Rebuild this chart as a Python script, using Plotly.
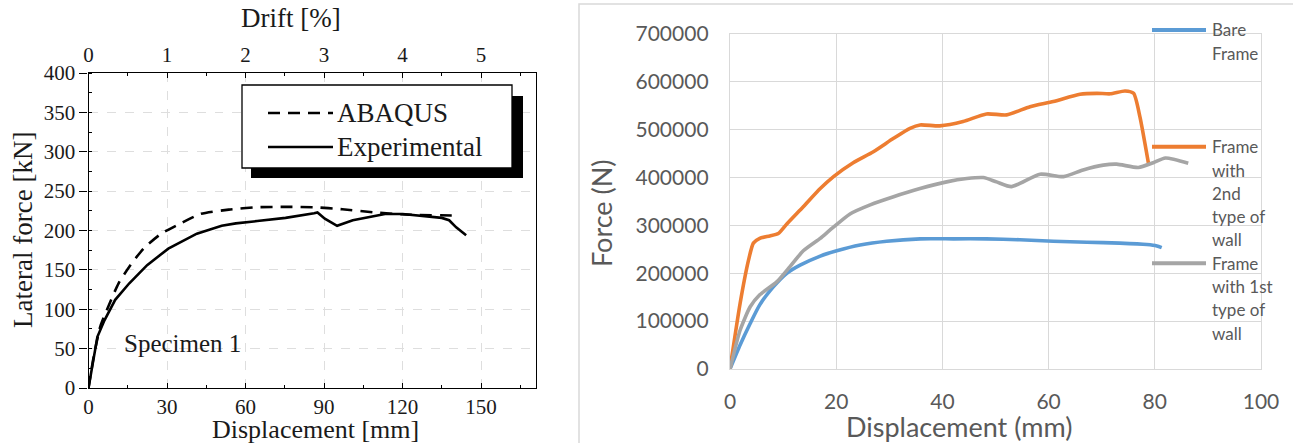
import plotly.graph_objects as go

W, H = 1293, 443

# ---- Specimen 1: lateral force vs displacement (kN, mm) ----
exp_disp = [0, 1.4, 3.4, 6.1, 10.2, 15.6, 22.4, 30.5, 41.4, 50.9, 56.3, 64.5, 75.3,
            86.2, 87.5, 90.3, 95, 101, 108, 113.3, 120, 127, 135, 137.8, 140.5, 144.3]
exp_force = [0, 27, 65, 86, 112, 133, 156, 177, 196, 206, 209, 212, 216,
             222, 223, 215, 206, 213, 218, 221, 221, 219, 216, 213, 204, 194]
abq_disp = [0, 2, 4.5, 7.5, 11.5, 15.6, 21, 27.8, 34.6, 42.8, 53.6, 64.5, 75.3,
            86.2, 97, 109.3, 122.8, 141.8]
abq_force = [0, 40, 78, 103, 133, 154, 177, 196, 208, 221, 226.5, 229.5, 230,
             229.5, 227, 223, 220, 219]
drift_ticks = [0, 1, 2, 3, 4, 5]
disp_ticks = [0, 30, 60, 90, 120, 150]
left_legend = ["ABAQUS", "Experimental"]

# ---- Frame pushover curves (N, mm) ----
bare_disp = [0, 1.9, 3.8, 5.6, 8.2, 10.7, 13.2, 17, 20.1, 24.5, 29.5, 35.8, 42.1,
             48.3, 54.6, 60.9, 67.2, 73.4, 78.5, 80.4, 81.3]
bare_force = [0, 50000, 95000, 134000, 172000, 200000, 217000, 236000, 247000,
              259000, 267000, 272000, 272000, 272000, 270000, 267000, 265000,
              263000, 260000, 257000, 253500]
wall2_disp = [0, 1.9, 3.5, 4.4, 5.6, 7.5, 9.1, 10.7, 13.8, 17, 19.5, 23.2, 27,
              30.8, 33.9, 35.8, 39.5, 43.9, 48.3, 52.1, 56.5, 60.9, 65.9, 69.1,
              71.6, 74.4, 76, 77.2, 78.8]
wall2_force = [0, 137000, 228000, 263000, 273000, 278000, 283000, 303000, 339000,
               377000, 402000, 431000, 454000, 482000, 503000, 510000, 508000,
               517000, 533000, 531000, 548000, 559000, 574000, 576000, 575000,
               581000, 576000, 527000, 430000]
wall1_disp = [0, 1.9, 3.8, 5.6, 8.8, 11.3, 13.8, 17, 18.8, 22.6, 26.4, 30.8, 35.8,
              40.8, 44.6, 47.7, 50.2, 53, 58.4, 62.8, 66.5, 70.3, 72.8, 76.9,
              79.7, 82, 86.3]
wall1_force = [0, 81000, 130000, 155000, 182000, 214000, 247000, 273000, 290000,
               324000, 343000, 360000, 377000, 391000, 398000, 400000, 391000,
               381000, 407000, 402000, 416000, 426000, 428000, 421000, 431000,
               441000, 430000]
right_legend = [["Bare", "Frame"],
                ["Frame", "with", "2nd", "type of", "wall"],
                ["Frame", "with 1st", "type of", "wall"]]
right_colors = ["#5B9BD5", "#ED7D31", "#A5A5A5"]


def px(x):
    return x / W


def py(y):
    return 1 - y / H


SERIF = "Liberation Serif"
SANS = "Lato"
INK = "#1a1a1a"
GREY_TXT = "#595959"
GRID = "#d9d9d9"

fig = go.Figure()

# left panel curves
fig.add_trace(go.Scatter(x=abq_disp, y=abq_force, xaxis="x", yaxis="y", mode="lines",
                         line=dict(color="black", width=2.6, dash="12px,8px", shape="spline", smoothing=0.6),
                         showlegend=False, hoverinfo="skip"))
fig.add_trace(go.Scatter(x=exp_disp, y=exp_force, xaxis="x", yaxis="y", mode="lines",
                         line=dict(color="black", width=2.6),
                         showlegend=False, hoverinfo="skip"))
# drift axis carrier
fig.add_trace(go.Scatter(x=[drift_ticks[0], drift_ticks[-1]], y=[0, 0], xaxis="x2", yaxis="y",
                         mode="lines", line=dict(width=0), showlegend=False, hoverinfo="skip"))

# right panel curves
for xs, ys, col in [(bare_disp, bare_force, right_colors[0]),
                    (wall2_disp, wall2_force, right_colors[1]),
                    (wall1_disp, wall1_force, right_colors[2])]:
    fig.add_trace(go.Scatter(x=xs, y=ys, xaxis="x3", yaxis="y3", mode="lines",
                             line=dict(color=col, width=3.6, shape="spline", smoothing=0.6),
                             showlegend=False, hoverinfo="skip"))

left_font = dict(family=SERIF, size=21, color=INK)
right_font = dict(family=SANS, size=21, color=GREY_TXT)

fig.update_layout(
    width=W, height=H, margin=dict(l=0, r=0, t=0, b=0, pad=0),
    paper_bgcolor="white", plot_bgcolor="white", showlegend=False,
    xaxis=dict(domain=[px(88.5), px(536)], anchor="y", range=[0, 171], automargin=False,
               tickvals=disp_ticks, ticks="inside", ticklen=5, tickcolor="black",
               showline=True, linecolor="black", linewidth=1.3,
               showgrid=True, gridcolor="#dedede", griddash="dash", gridwidth=1,
               zeroline=False, tickfont=left_font, ticklabelstandoff=0,
               minor=dict(dtick=15, ticks="inside", ticklen=3, tickcolor="black", showgrid=False)),
    xaxis2=dict(overlaying="x", anchor="y", side="top", range=[0, 171 / 30], automargin=False,
                tickvals=drift_ticks, ticks="inside", ticklen=5, tickcolor="black",
                showline=True, linecolor="black", linewidth=1.3, showgrid=False,
                zeroline=False, tickfont=left_font, ticklabelstandoff=1,
                minor=dict(dtick=0.5, ticks="inside", ticklen=3, tickcolor="black", showgrid=False)),
    yaxis=dict(domain=[py(388), py(73)], anchor="x", range=[0, 400], dtick=50, automargin=False,
               ticks="outside", ticklen=8, tickcolor="black",
               showline=True, mirror=True, linecolor="black", linewidth=1.3,
               showgrid=True, gridcolor="#dedede", griddash="dash", gridwidth=1,
               zeroline=False, tickfont=left_font,
               minor=dict(dtick=25, ticks="inside", ticklen=3, tickcolor="black", showgrid=False)),
    xaxis3=dict(domain=[px(730), px(1261)], anchor="y3", range=[0, 100], dtick=20, automargin=False,
                showline=True, mirror=True, linecolor=GRID, linewidth=1.4,
                showgrid=True, gridcolor=GRID, gridwidth=1.4, zeroline=False,
                ticks="", tickfont=right_font, ticklabelstandoff=14),
    yaxis3=dict(domain=[py(369), py(34)], anchor="x3", range=[0, 700000], dtick=100000,
                automargin=False, tickformat="d", showline=True, mirror=True, linecolor=GRID,
                linewidth=1.4, showgrid=True, gridcolor=GRID, gridwidth=1.4, zeroline=False,
                ticks="", tickfont=right_font, ticklabelstandoff=16),
)

shapes = [
    # outer frame of the right chart
    dict(type="rect", xref="paper", yref="paper", x0=px(579), x1=px(1310), y0=py(460), y1=py(4),
         line=dict(color=GRID, width=1.5), fillcolor="rgba(0,0,0,0)", layer="below"),
    # boxed legend with drop shadow (left panel)
    dict(type="rect", xref="paper", yref="paper", x0=px(251), x1=px(523), y0=py(178), y1=py(96),
         line=dict(width=0), fillcolor="black"),
    dict(type="rect", xref="paper", yref="paper", x0=px(242), x1=px(512), y0=py(168), y1=py(85),
         line=dict(color="black", width=1.3), fillcolor="white"),
    dict(type="line", xref="paper", yref="paper", x0=px(268), x1=px(333), y0=py(113), y1=py(113),
         line=dict(color="black", width=2.6, dash="12px,8px")),
    dict(type="line", xref="paper", yref="paper", x0=px(268), x1=px(333), y0=py(147), y1=py(147),
         line=dict(color="black", width=2.6)),
]
# right legend swatches
entry_y = [30, 146.7, 263.3]
for yc, col in zip(entry_y, right_colors):
    shapes.append(dict(type="line", xref="paper", yref="paper", x0=px(1152), x1=px(1206),
                       y0=py(yc), y1=py(yc), line=dict(color=col, width=4)))
fig.update_layout(shapes=shapes)

ann = []


def text(x, y, s, font, xanchor="center", **kw):
    ann.append(dict(x=px(x), y=py(y), xref="paper", yref="paper", text=s, showarrow=False,
                    font=font, xanchor=xanchor, yanchor="middle", **kw))


title_serif = dict(family=SERIF, size=27, color=INK)
text(315, 429, "Displacement [mm]", dict(family=SERIF, size=26, color=INK))
text(291, 18, "Drift [%]", title_serif)
text(23, 230, "Lateral force [kN]", title_serif, textangle=-90)
text(182.5, 343, "Specimen 1", dict(family=SERIF, size=25, color=INK))
for lbl, yc in zip(left_legend, [113, 147]):
    text(335, yc, lbl, dict(family=SERIF, size=27, color=INK), xanchor="left")

title_sans = dict(family=SANS, size=27, color=GREY_TXT)
text(602, 213, "Force (N)", title_sans, textangle=-90)
text(959, 426, "Displacement (mm)", title_sans)
for lines, y0 in zip(right_legend, entry_y):
    for i, ln in enumerate(lines):
        text(1210, y0 + i * 23.3, ln, dict(family=SANS, size=17, color=GREY_TXT), xanchor="left")

fig.update_layout(annotations=ann)
fig.write_html("out.html")
